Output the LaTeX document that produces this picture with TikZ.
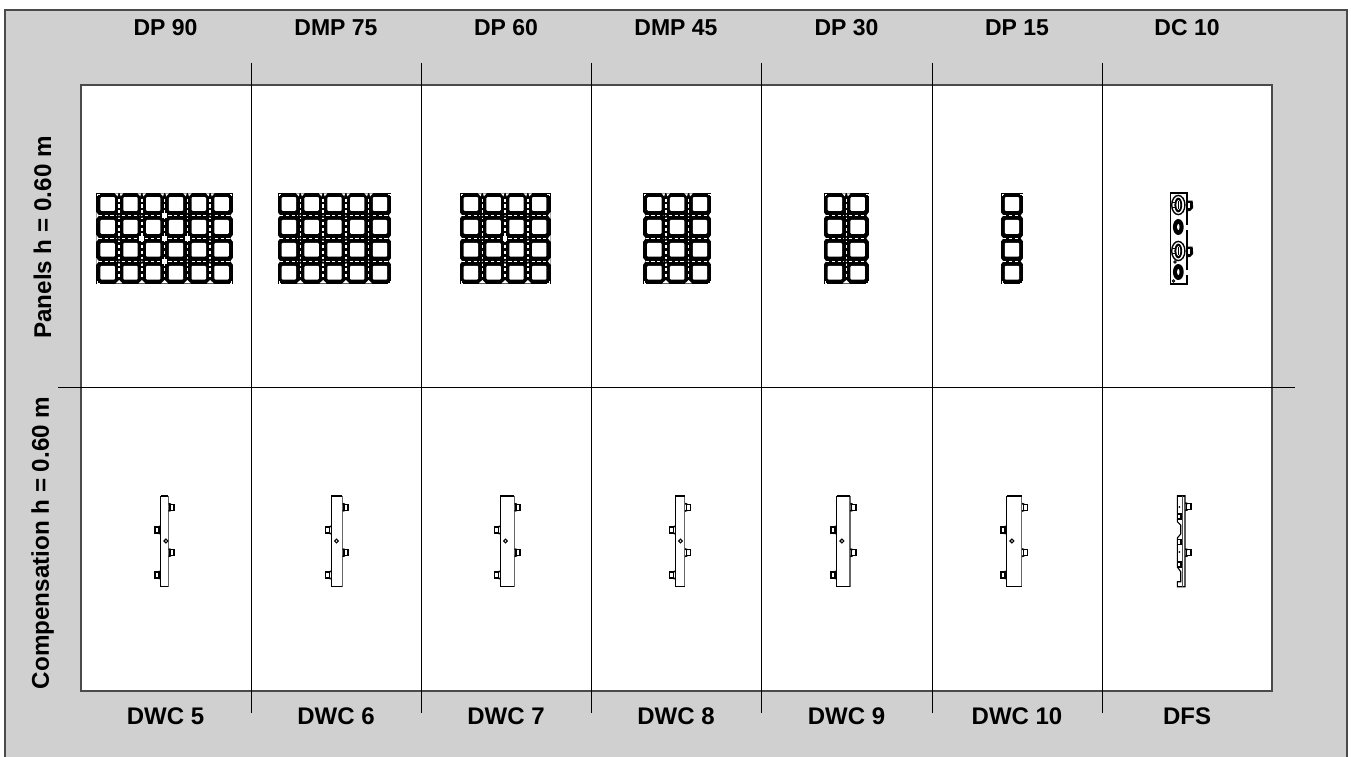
\documentclass[tikz,border=0pt]{standalone}
\usepackage{fontspec}
\setmainfont{Liberation Sans}
\definecolor{bandgray}{HTML}{D0D0D0}
\definecolor{edgegray}{HTML}{4A4A4A}
\tikzset{
  headlabel/.style={font=\bfseries\fontsize{23}{26}\selectfont,text=black,inner sep=0pt,anchor=center},
  footlabel/.style={font=\bfseries\fontsize{24}{26}\selectfont,text=black,inner sep=0pt,anchor=center},
  sidelabel/.style={font=\bfseries\fontsize{24.2}{26}\selectfont,text=black,inner sep=0pt,anchor=center,rotate=90},
  divider/.style={draw=black,line width=1pt},
  stripline/.style={white,line width=1.5pt,dash pattern=on 3.2pt off 2.6pt},
}
\newcommand{\panelgrid}[2]{%
  \begin{scope}[shift={(#1,192.5)}]
    \pgfmathsetmacro\pw{#2*22.78}
    \fill[black] (0,0) rectangle (\pw,91.7);
    \foreach \r in {1,2,3}{
      \pgfmathsetmacro\yy{\r*22.92}
      \draw[stripline] (2.5,\yy) -- (\pw-2.5,\yy);
      \fill[white] (0,\yy-3.4) -- (2.6,\yy) -- (0,\yy+3.4) -- cycle;
      \fill[white] (\pw,\yy-3.4) -- (\pw-2.6,\yy) -- (\pw,\yy+3.4) -- cycle;
    }
    \ifnum#2>1
    \foreach \c in {2,...,#2}{
      \pgfmathsetmacro\xx{(\c-1)*22.78}
      \draw[stripline] (\xx,6) -- (\xx,86);
      \fill[white] (\xx-4.2,0.9) -- (\xx-0.7,0.9) -- (\xx-1.6,3.8) -- cycle;
      \fill[white] (\xx+4.2,0.9) -- (\xx+0.7,0.9) -- (\xx+1.6,3.8) -- cycle;
      \fill[white] (\xx-3.4,90.8) -- (\xx+3.4,90.8) -- (\xx,87.5) -- cycle;
      \foreach \r in {1,2,3}{
        \pgfmathsetmacro\yy{\r*22.92}
        \pgfmathtruncatemacro\skipit{or(and(#2==6,and(\c==4,\r!=2)),and(or(#2==6,#2==4),and(\r==2,and(\c>2,\c<#2))))}
        \ifnum\skipit=1
          \fill[white] (\xx-2.4,\yy-2.4) rectangle (\xx+2.4,\yy+2.4);
        \else
          \fill[black] (\xx,\yy) circle (2.5pt);
          \fill[white] (\xx,\yy) circle (0.7pt);
        \fi
      }
    }
    \fi
    \foreach \c in {1,...,#2}{
      \foreach \r in {1,...,4}{
        \pgfmathsetmacro\xx{(\c-0.5)*22.78}
        \pgfmathsetmacro\yy{(\r-0.5)*22.92}
        \fill[white,rounded corners=1pt] (\xx-7.2,\yy-6.9) rectangle (\xx+7.2,\yy+6.9);
      }
    }
    \draw[white,line width=0.5pt] (1.3,3.2) -- (1.3,1.3) -- (3.2,1.3) (\pw-3.2,1.3) -- (\pw-1.3,1.3) -- (\pw-1.3,3.2)
      (1.3,88.5) -- (1.3,90.4) -- (3.2,90.4) (\pw-3.2,90.4) -- (\pw-1.3,90.4) -- (\pw-1.3,88.5);
  \end{scope}%
}
\newcommand{\clampR}[2]{%
  \draw[black,line width=1.5pt,fill=white] (#1+1.6,#2-3) rectangle (#1+5.8,#2+3);
  \draw[black,line width=1.6pt] (#1+0.3,#2-3.7) -- (#1+2.6,#2-3) (#1+0.3,#2+3.7) -- (#1+2.6,#2+3);
}
\newcommand{\clampL}[2]{%
  \draw[black,line width=1.5pt,fill=white] (#1-1.6,#2-3) rectangle (#1-5.8,#2+3);
  \draw[black,line width=1.6pt] (#1-0.3,#2-3.7) -- (#1-2.6,#2-3) (#1-0.3,#2+3.7) -- (#1-2.6,#2+3);
}
\newcommand{\comppost}[2]{%
  \fill[white] (#1,495.7) rectangle (#2,586.7);
  \draw[black!60,line width=1.2pt] (#2,495.7) -- (#2,586.7);
  \draw[black,line width=1.1pt] (#2,586.7) -- (#1,586.7) -- (#1,495.7);
  \draw[black,line width=1.7pt] (#1,495.7) -- (#2,495.7);
  \clampR{#2}{507.3}\clampR{#2}{552.7}%
  \clampL{#1}{530}\clampL{#1}{575}%
  \draw[black,line width=1.1pt,fill=white] (#1+5.2,541) circle (1.9pt);
}
\begin{document}
\begin{tikzpicture}[x=1pt,y=-1pt]
\useasboundingbox (0,0) rectangle (1351,757);
\fill[white] (0,0) rectangle (1351,757);
\fill[bandgray] (5,10) rectangle (1347,757);
\draw[edgegray,line width=1.1pt] (5,757) -- (5,10) -- (1347,10) -- (1347,757);
\draw[edgegray,fill=white,line width=1.3pt] (81,85) rectangle (1272,691);
% column and row dividers
\foreach \dx/\dn in {251/a,421/b,591/c,761/d,932/e,1102/f}{
  \coordinate (top\dn) at (\dx,63);
  \coordinate (bot\dn) at (\dx,713);
  \draw[divider] (top\dn) -- (bot\dn);
}
\coordinate (rowL) at (58,387);
\coordinate (rowR) at (1295,387);
\draw[divider] (rowL) -- (rowR);
% labels
\node[headlabel] (h1) at (165.5,28) {DP 90};
\node[headlabel] (h2) at (336,28) {DMP 75};
\node[headlabel] (h3) at (506,28) {DP 60};
\node[headlabel] (h4) at (676,28) {DMP 45};
\node[headlabel] (h5) at (846.5,28) {DP 30};
\node[headlabel] (h6) at (1017,28) {DP 15};
\node[headlabel] (h7) at (1187,28) {DC 10};
\node[footlabel] (f1) at (165.5,716) {DWC 5};
\node[footlabel] (f2) at (336,716) {DWC 6};
\node[footlabel] (f3) at (506,716) {DWC 7};
\node[footlabel] (f4) at (676,716) {DWC 8};
\node[footlabel] (f5) at (846.5,716) {DWC 9};
\node[footlabel] (f6) at (1017,716) {DWC 10};
\node[footlabel] (f7) at (1187,716) {DFS};
\node[sidelabel] (s1) at (42.5,237.5) {Panels h = 0.60 m};
\node[sidelabel] (s2) at (42.5,543) {Compensation h = 0.60 m};
% panels
\panelgrid{96.3}{6}
\panelgrid{277.5}{5}
\panelgrid{459.5}{4}
\panelgrid{643}{3}
\panelgrid{823.5}{2}
\panelgrid{1000.6}{1}
% DC 10
\fill[white] (1170.7,192.7) rectangle (1187,284);
\draw[black,line width=1.4pt] (1170.7,192.7) rectangle (1187,284);
\draw[black,line width=2pt] (1170.7,192.7) -- (1187,192.7);
\foreach \yc in {205,251}{
  \draw[black,line width=1.4pt] (1178.3,\yc) ellipse (6.6pt and 9.6pt);
  \fill[black] (1178.3,\yc) ellipse (3.9pt and 7.4pt);
  \fill[white] (1178.3,\yc) ellipse (2pt and 5pt);
  \draw[black,line width=0.9pt] (1171.5,\yc-2.5) -- (1176,\yc-2.5) (1171.5,\yc+2.5) -- (1176,\yc+2.5)
     (1178.3,\yc-4) -- (1178.3,\yc+4);
  \fill[black] (1187,\yc-4.5) -- (1192.6,\yc-4.5) -- (1193.2,\yc+3) -- (1190,\yc+6) -- (1187,\yc+6) -- cycle;
  \fill[white] (1187.8,\yc-2.5) rectangle (1190.2,\yc+3);
}
\foreach \yc in {227,272}{
  \fill[black] (1178.3,\yc) ellipse (5.4pt and 8pt);
  \fill[white] (1178.3,\yc) ellipse (1.2pt and 3pt);
  \fill[black] (1185.6,\yc-6) rectangle (1187.8,\yc+6);
  \fill[white] (1186.4,\yc-2.5) rectangle (1187.8,\yc+2.5);
}
\draw[black,line width=0.9pt,fill=white] (1175,262) circle (1.3pt);
\draw[black,line width=0.9pt,fill=white] (1173.5,281) circle (1.2pt);
% compensation posts
\comppost{160.7}{168.3}
\comppost{331.3}{342.3}
\comppost{500.3}{514.3}
\comppost{675.3}{684.7}
\comppost{836.7}{850}
\comppost{1006.7}{1021.7}
% DFS
\draw[black,line width=1.1pt,fill=white]
  (1177.3,495.7) -- (1185,495.7) -- (1185,586.7) -- (1177.3,586.7) -- (1177.3,581.7) -- (1180.7,581.7)
  -- (1180.7,571.7) -- (1177.3,567) -- (1177.3,538) -- (1180.7,534) -- (1180.7,525) -- (1177.3,521.7) -- cycle;
\draw[black,line width=1.7pt] (1177.3,495.7) -- (1185,495.7);
\draw[black!70,line width=1pt] (1182.7,495.7) -- (1182.7,586.7);
\foreach \by in {514,539.5,562}{
  \draw[black,line width=1.4pt] (1177.6,\by) rectangle (1181,\by+5);
}
\fill[black] (1179.3,507) circle (1pt);
\fill[black] (1179.3,552) circle (1pt);
\clampR{1185}{506.7}\clampR{1185}{552.7}
\end{tikzpicture}
\end{document}
